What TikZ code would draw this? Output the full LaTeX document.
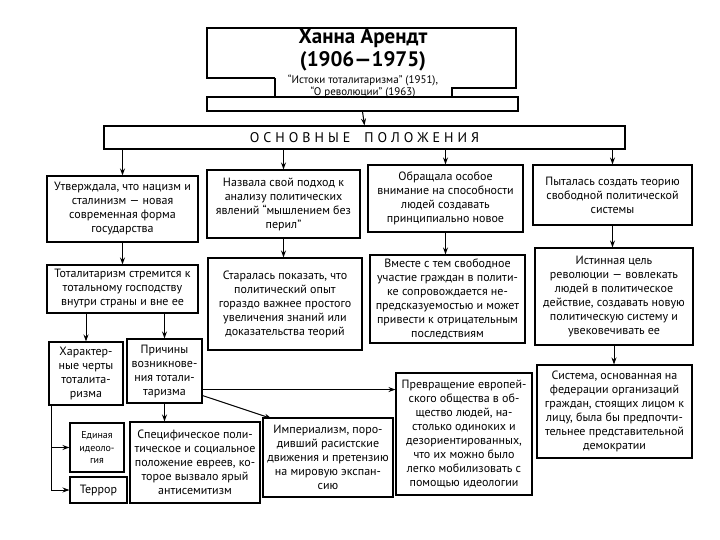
\documentclass[tikz,border=0pt]{standalone}
\usepackage{fontspec}
\setmainfont{PT Sans}
\usetikzlibrary{arrows.meta,calc}
\newcommand{\lsgap}{\hspace{4pt}}
\begin{document}
\begin{tikzpicture}[x=1pt,y=-1pt,
  bx/.style={draw, line width=1.1pt, align=center, inner sep=1pt, font=\fontsize{12}{14}\selectfont},
  arr/.style={line width=1pt, -{Stealth[length=7pt,width=5pt]}},
  frame/.style={line width=1.1pt}
]
\useasboundingbox (0,0) rectangle (720,540);
\fill[white] (0,0) rectangle (720,540);

% title block
\draw[frame] (275,78) -- (207,78) -- (207,28) -- (516,28) -- (516,88) -- (452,88) -- (452,97);
\draw[frame] (275,78) -- (275,97);
\node[draw, frame, minimum width=311pt, minimum height=14pt, inner sep=0pt] (tbar) at (362.5,104) {};
\node[font=\fontsize{21}{23.5}\selectfont\bfseries, align=center] (title) at (363,50) {Ханна Арендт\\(1906—1975)};
\node[font=\fontsize{11}{12.5}\selectfont, align=center, inner sep=0pt] (works) at (363,86.5) {“Истоки тоталитаризма” (1951),\\“О революции” (1963)};

\node[draw, frame, minimum width=521pt, minimum height=23pt, inner sep=0pt, font=\fontsize{14}{15}\selectfont] (osn) at (364.5,137.5)
 {О\lsgap С\lsgap Н\lsgap О\lsgap В\lsgap Н\lsgap Ы\lsgap Е\hspace{14pt}П\lsgap О\lsgap Л\lsgap О\lsgap Ж\lsgap Е\lsgap Н\lsgap И\lsgap Я};

% row 1
\node[bx, minimum width=151pt, minimum height=66pt] (b1) at (122.5,209) {Утверждала, что нацизм и\\сталинизм — новая\\современная форма\\государства};
\node[bx, minimum width=153pt, minimum height=68pt] (b2) at (283.5,204) {Назвала свой подход к\\анализу политических\\явлений “мышлением без\\перил”};
\node[bx, minimum width=155pt, minimum height=67pt] (b3) at (445.5,198.5) {Обращала особое\\внимание на способности\\людей создавать\\принципиально новое};
\node[bx, minimum width=159pt, minimum height=60pt] (b4) at (612.5,195) {Пыталась создать теорию\\свободной политической\\системы};

% row 2
\node[bx, minimum width=151pt, minimum height=48pt] (c1) at (122.5,289) {Тоталитаризм стремится к\\тотальному господству\\внутри страны и вне ее};
\node[bx, minimum width=154pt, minimum height=92pt] (c2) at (285,304) {Старалась показать, что\\политический опыт\\гораздо важнее простого\\увеличения знаний или\\доказательства теорий};
\node[bx, minimum width=155pt, minimum height=88pt] (c3) at (447.5,299) {Вместе с тем свободное\\участие граждан в полити-\\ке сопровождается не-\\предсказуемостью и может\\привести к отрицательным\\последствиям};
\node[bx, minimum width=158pt, minimum height=97pt] (c4) at (614,296.5) {Истинная цель\\революции — вовлекать\\людей в политическое\\действие, создавать новую\\политическую систему и\\увековечивать ее};

% row 3
\node[bx, minimum width=74pt, minimum height=63pt] (har) at (86,373.5) {Характер-\\ные черты\\тоталита-\\ризма};
\node[bx, minimum width=75pt, minimum height=64pt] (prich) at (164.5,371) {Причины\\возникнове-\\ния тотали-\\таризма};
\node[bx, minimum width=136pt, minimum height=122pt] (prev) at (464,434) {Превращение европей-\\ского общества в об-\\щество людей, на-\\столько одиноких и\\дезориентированных,\\что их можно было\\легко мобилизовать с\\помощью идеологии};
\node[bx, minimum width=155pt, minimum height=93pt] (sys) at (614.5,411.5) {Система, основанная на\\федерации организаций\\граждан, стоящих лицом к\\лицу, была бы предпочти-\\тельнее представительной\\демократии};

% row 4
\node[bx, minimum width=54pt, minimum height=49pt, font=\fontsize{10}{12.5}\selectfont] (edin) at (97,447.5) {Единая\\идеоло-\\гия};
\node[bx, minimum width=57pt, minimum height=26pt] (terr) at (98.5,490) {Террор};
\node[bx, minimum width=130pt, minimum height=81pt] (spec) at (195,462.5) {Специфическое поли-\\тическое и социальное\\положение евреев, ко-\\торое вызвало ярый\\антисемитизм};
\node[bx, minimum width=130pt, minimum height=79pt] (imp) at (328,457.5) {Империализм, поро-\\дивший расистские\\движения и претензию\\на мировую экспан-\\сию};

% connectors
\draw[arr] (tbar.south) -- (osn.north);
\foreach \n in {b1,b2,b3,b4} \draw[arr] (osn.south -| \n.north) -- (\n.north);
\draw[arr] (b1.south) -- (b1.south |- c1.north);
\draw[arr] (b2.south) -- (b2.south |- c2.north);
\draw[arr] (b3.south) -- (b3.south |- c3.north);
\draw[arr] (b4.south) -- (b4.south |- c4.north);
\draw[arr] (c1.south -| har.north) -- (har.north);
\draw[arr] (c1.south -| prich.north) -- (prich.north);
\draw[arr] (prich.south) -- (prich.south |- spec.north);
\coordinate (hl) at ($(har.south west)+(3,0)$);
\draw[arr] (hl) |- (terr.west);
\draw[arr] (hl |- edin.west) -- (edin.west);
\coordinate (p1) at ($(prich.south east)+(0,-14)$);
\draw[arr] (p1) -- (p1 -| prev.west);
\coordinate (p2) at ($(prich.south east)+(0,-8)$);
\draw[arr] (p2) -- ($(imp.north west)+(9,1)$);
\draw[arr] (c4.south) -- (c4.south |- sys.north);
\end{tikzpicture}
\end{document}
